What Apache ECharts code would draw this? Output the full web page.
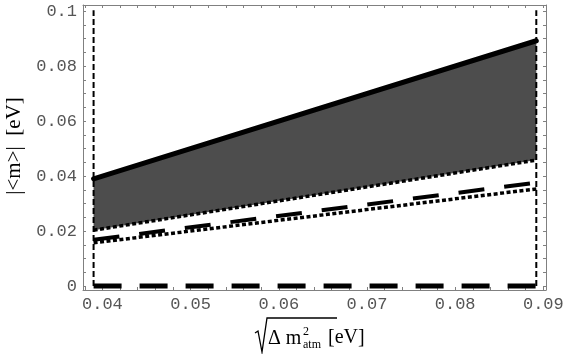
<!DOCTYPE html>
<html><head><meta charset="utf-8">
<script src="https://cdn.jsdelivr.net/npm/echarts@6/dist/echarts.min.js"></script>
<style>html,body{margin:0;padding:0;background:#fff}#c{width:571px;height:354px}</style>
</head><body><div id="c"></div>
<script>
// x positions (sqrt(Δm²_atm) in eV) of the two ends of every curve
const xEnds = [0.039, 0.0892];
const upperBound = [0.039, 0.0892];     // solid thick line, top of shaded band
const lowerBound = [0.0203, 0.0458];    // dotted line, bottom of shaded band
const dashedLine = [0.0168, 0.0376];    // long-dashed line
const dottedLine = [0.0157, 0.0353];    // lower dotted line
const zeroLine = [0, 0];                // long-dashed line at zero
const vLineY = [0, 0.1003];             // vertical dashed boundary lines
const xTickLabels = [0.04, 0.05, 0.06, 0.07, 0.08, 0.09];
const xTicks = [0.038,0.04,0.042,0.044,0.046,0.048,0.05,0.052,0.054,0.056,0.058,0.06,0.062,0.064,0.066,0.068,0.07,0.072,0.074,0.076,0.078,0.08,0.082,0.084,0.086,0.088,0.09];
const yTickLabels = [0, 0.02, 0.04, 0.06, 0.08, 0.1];
const yTicks = [0,0.005,0.01,0.015,0.02,0.025,0.03,0.035,0.04,0.045,0.05,0.055,0.06,0.065,0.07,0.075,0.08,0.085,0.09,0.095,0.1];

const pairs = (ys) => xEnds.map((x, i) => [x, ys[i]]);

const axisColor = '#808080';
const tickFont = {fontFamily: 'Liberation Mono', fontSize: 17, color: '#555'};
const X0 = 0.0378, X1 = 0.0903, Y0 = -0.00145, Y1 = 0.1022;

function xAx(pos, showLabel) {
  return {
    type: 'value', position: pos, min: X0, max: X1,
    axisLine: {show: true, onZero: false, lineStyle: {color: axisColor, width: 1}},
    axisTick: {show: true, inside: true, length: 3, customValues: xTicks, lineStyle: {color: axisColor}},
    axisLabel: Object.assign({show: showLabel, customValues: xTickLabels, margin: 6,
      formatter: v => String(+v.toFixed(3))}, tickFont),
    splitLine: {show: false}
  };
}
function yAx(pos, showLabel) {
  return {
    type: 'value', position: pos, min: Y0, max: Y1,
    axisLine: {show: true, onZero: false, lineStyle: {color: axisColor, width: 1}},
    axisTick: {show: true, inside: true, length: 3, customValues: yTicks, lineStyle: {color: axisColor}},
    axisLabel: Object.assign({show: showLabel, customValues: yTickLabels, margin: 6,
      formatter: v => String(+v.toFixed(3))}, tickFont),
    splitLine: {show: false}
  };
}

function lineSeries(data, style) {
  return {type: 'line', data: data, symbol: 'none', silent: true, animation: false,
    lineStyle: Object.assign({color: '#000'}, style), z: 3};
}

const chart = echarts.init(document.getElementById('c'), null, {renderer: 'canvas'});
chart.setOption({
  animation: false,
  backgroundColor: '#fff',
  grid: {left: 83, right: 25, top: 5, bottom: 64, containLabel: false},
  xAxis: [xAx('bottom', true), xAx('top', false)],
  yAxis: [yAx('left', true), yAx('right', false)],
  series: [
    {type: 'custom', data: pairs(upperBound), z: 1, silent: true,
      renderItem: function (params, api) {
        if (params.dataIndex !== 0) return null;
        const top = xEnds.map((x, i) => api.coord([x, upperBound[i]]));
        const bot = xEnds.map((x, i) => api.coord([x, lowerBound[i]])).reverse();
        return {type: 'polygon', shape: {points: top.concat(bot)}, style: {fill: '#4d4d4d'}};
      }},
    lineSeries(pairs(upperBound), {width: 5, cap: 'round'}),
    lineSeries(pairs(lowerBound), {width: 3.5, type: [4, 2.5]}),
    lineSeries(pairs(dashedLine), {width: 4, type: [26, 20]}),
    lineSeries(pairs(dottedLine), {width: 3.5, type: [4, 2.5]}),
    lineSeries(pairs(zeroLine), {width: 5, type: [28, 18]}),
    lineSeries(vLineY.map(y => [xEnds[0], y]), {width: 2, type: [6, 3]}),
    lineSeries(vLineY.map(y => [xEnds[1], y]), {width: 2, type: [6, 3]})
  ],
  graphic: [
    {type: 'text', x: 14, y: 146, rotation: Math.PI / 2,
      style: {text: '|<m>|  [eV]', font: '21px "Liberation Serif"', fill: '#000', align: 'center', verticalAlign: 'middle'}},
    {type: 'polyline', shape: {points: [[255, 333], [258, 331], [262, 352], [267, 318], [337, 318]]},
      style: {stroke: '#000', lineWidth: 1.3, fill: null}},
    {type: 'text', x: 268, y: 339, style: {text: 'Δ m', font: '20px "Liberation Serif"', fill: '#000', verticalAlign: 'middle'}},
    {type: 'text', x: 303, y: 332, style: {text: '2', font: '12px "Liberation Serif"', fill: '#000', verticalAlign: 'middle'}},
    {type: 'text', x: 303, y: 345, style: {text: 'atm', font: '12px "Liberation Serif"', fill: '#000', verticalAlign: 'middle'}},
    {type: 'text', x: 328, y: 338, style: {text: '[eV]', font: '20px "Liberation Serif"', fill: '#000', verticalAlign: 'middle'}}
  ]
});
</script></body></html>
